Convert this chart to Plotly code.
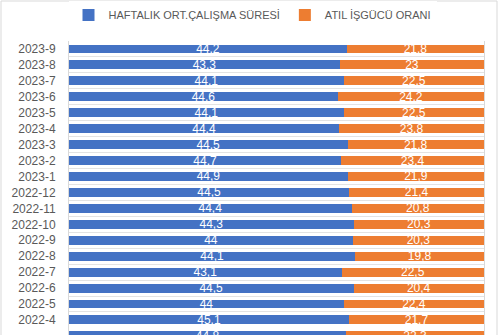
import plotly.graph_objects as go

categories = ["2023-9", "2023-8", "2023-7", "2023-6", "2023-5", "2023-4", "2023-3",
              "2023-2", "2023-1", "2022-12", "2022-11", "2022-10", "2022-9", "2022-8",
              "2022-7", "2022-6", "2022-5", "2022-4", "2022-3"]
haftalik = [44.2, 43.3, 44.1, 44.6, 44.1, 44.4, 44.5, 44.7, 44.9, 44.5, 44.4, 44.3,
            44.0, 44.1, 43.1, 44.5, 44.0, 45.1, 44.8]
atil = [21.8, 23.0, 22.5, 24.2, 22.5, 23.8, 21.8, 23.4, 21.9, 21.4, 20.8, 20.3,
        20.3, 19.8, 22.5, 20.4, 22.4, 21.7, 22.3]

series_names = ["HAFTALIK ORT.ÇALIŞMA SÜRESİ", "ATIL İŞGÜCÜ ORANI"]
colors = ["#4472C4", "#ED7D31"]


def fmt(v):
    return f"{v:g}".replace(".", ",")


FONT = "Liberation Sans"

fig = go.Figure()
for name, vals, col in zip(series_names, [haftalik, atil], colors):
    fig.add_trace(go.Bar(
        y=categories, x=vals, name=name, orientation="h",
        marker=dict(color=col, line=dict(width=0)),
        text=[fmt(v) for v in vals], texttemplate="%{text}",
        textposition="inside", insidetextanchor="middle",
        constraintext="none", textangle=0,
        textfont=dict(color="white", size=12, family=FONT),
        hoverinfo="skip",
    ))

n_visible = 294 / 15.94
fig.update_layout(
    barmode="stack", barnorm="percent", bargap=0.44,
    width=500, height=335,
    margin=dict(l=69, r=16, t=41, b=0),
    paper_bgcolor="white", plot_bgcolor="white",
    font=dict(family=FONT, color="#595959"),
    showlegend=True,
    legend=dict(orientation="h", xref="container", yref="container",
                x=0.505, xanchor="center", y=0.955, yanchor="middle",
                font=dict(size=11, color="#595959", family=FONT),
                itemwidth=30, traceorder="normal"),
    xaxis=dict(range=[0, 100], showgrid=False, zeroline=False,
               showticklabels=False, showline=False, fixedrange=True),
    yaxis=dict(type="category", categoryorder="array", categoryarray=categories,
               range=[n_visible - 0.5, -0.5], tickson="boundaries",
               showgrid=True, gridcolor="#e3e3e3", gridwidth=1,
               showline=True, linecolor="#d9d9d9", mirror=True,
               ticks="", ticklabelstandoff=10,
               tickfont=dict(size=12, color="#595959", family=FONT)),
    shapes=[dict(type="rect", xref="paper", yref="paper",
                 x0=(1 - 69) / 415, x1=(497 - 69) / 415,
                 y0=-0.2, y1=1 + 40 / 294,
                 line=dict(color="#d9d9d9", width=1), fillcolor="rgba(0,0,0,0)",
                 layer="below")],
)

fig.write_html("out.html")
